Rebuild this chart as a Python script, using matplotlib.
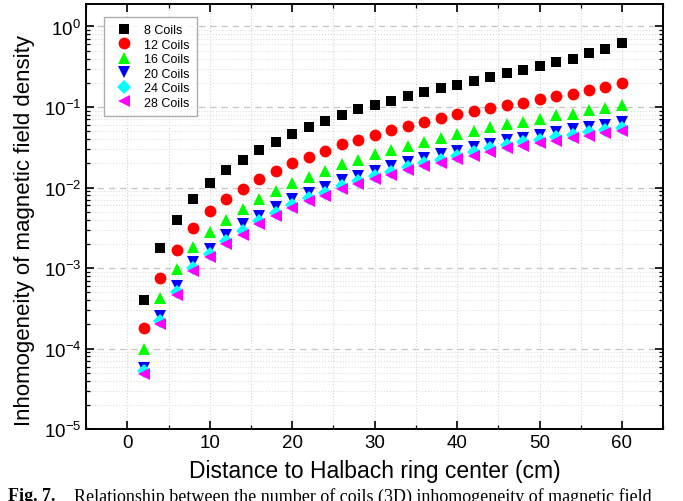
import numpy as np
import matplotlib
matplotlib.use('Agg')
import matplotlib.pyplot as plt
from matplotlib.ticker import LogLocator, MultipleLocator, NullFormatter

plt.rcParams['font.family'] = ['Liberation Sans', 'DejaVu Sans']
plt.rcParams['axes.unicode_minus'] = False

# distance to ring center (cm)
distance = [2, 4, 6, 8, 10, 12, 14, 16, 18, 20, 22, 24, 26, 28, 30,
            32, 34, 36, 38, 40, 42, 44, 46, 48, 50, 52, 54, 56, 58, 60]

coils_8 = [4.0e-4, 1.78e-3, 3.96e-3, 7.3e-3, 0.0115, 0.0166, 0.0222, 0.0296, 0.0372, 0.0464,
           0.0562, 0.0662, 0.080, 0.0935, 0.107, 0.120, 0.137, 0.152, 0.173, 0.190,
           0.213, 0.235, 0.261, 0.287, 0.319, 0.358, 0.398, 0.464, 0.521, 0.63]
coils_12 = [1.82e-4, 7.6e-4, 1.7e-3, 3.16e-3, 5.06e-3, 7.3e-3, 9.7e-3, 0.0127, 0.016, 0.0201,
            0.0242, 0.0287, 0.0345, 0.0394, 0.0455, 0.0516, 0.0584, 0.065, 0.0736, 0.0818,
            0.0883, 0.098, 0.107, 0.112, 0.126, 0.139, 0.147, 0.162, 0.178, 0.200]
coils_16 = [1.0e-4, 4.3e-4, 9.7e-4, 1.83e-3, 2.8e-3, 4.0e-3, 5.4e-3, 7.15e-3, 9.1e-3, 0.01155,
            0.0137, 0.0162, 0.0196, 0.0222, 0.0259, 0.0296, 0.0332, 0.0372, 0.0414, 0.0464,
            0.0506, 0.0562, 0.0619, 0.065, 0.0715, 0.0787, 0.0826, 0.0909, 0.0971, 0.105]
coils_20 = [5.8e-5, 2.57e-4, 6.0e-4, 1.2e-3, 1.74e-3, 2.6e-3, 3.58e-3, 4.5e-3, 5.8e-3, 7.3e-3,
            8.66e-3, 0.0103, 0.0124, 0.0140, 0.0162, 0.0183, 0.0209, 0.0235, 0.0261, 0.0288,
            0.0316, 0.0352, 0.0394, 0.0414, 0.0455, 0.0496, 0.0526, 0.0568, 0.0601, 0.066]
coils_24 = [5.3e-5, 2.2e-4, 5.1e-4, 9.9e-4, 1.5e-3, 2.2e-3, 2.85e-3, 3.8e-3, 4.8e-3, 6.1e-3,
            7.4e-3, 8.6e-3, 0.0104, 0.0121, 0.0139, 0.0158, 0.0182, 0.0201, 0.0221, 0.0248,
            0.0273, 0.0306, 0.0337, 0.0365, 0.0393, 0.0421, 0.0451, 0.0487, 0.0525, 0.0556]
coils_28 = [4.9e-5, 2.04e-4, 4.7e-4, 9.1e-4, 1.38e-3, 2.0e-3, 2.6e-3, 3.48e-3, 4.4e-3, 5.6e-3,
            6.8e-3, 7.87e-3, 9.5e-3, 0.0110, 0.0127, 0.0144, 0.0166, 0.0183, 0.0201, 0.0226,
            0.0249, 0.0279, 0.0307, 0.0332, 0.0358, 0.0383, 0.0410, 0.0443, 0.0478, 0.0506]

series = [
    ('8 Coils', coils_8, 's', 'black', 7.5),
    ('12 Coils', coils_12, 'o', 'red', 8.5),
    ('16 Coils', coils_16, '^', '#00ff00', 8.5),
    ('20 Coils', coils_20, 'v', 'blue', 8.5),
    ('24 Coils', coils_24, 'D', 'cyan', 7),
    ('28 Coils', coils_28, '<', 'magenta', 8.5),
]

fig = plt.figure(figsize=(6.83, 5.02), dpi=100)
ax = fig.add_axes([0.126, 0.143, 0.845, 0.847])

for name, vals, mk, col, ms in series:
    ax.plot(distance, vals, linestyle='none', marker=mk, color=col,
            markersize=ms, markeredgewidth=0, label=name)

ax.set_yscale('log')
ax.set_xlim(-5, 65)
ax.set_ylim(1e-5, 1.9)

ax.xaxis.set_major_locator(MultipleLocator(10))
ax.xaxis.set_minor_locator(MultipleLocator(5))
ax.yaxis.set_major_locator(LogLocator(base=10, numticks=10))
ax.yaxis.set_minor_locator(LogLocator(base=10, subs=np.arange(2, 10), numticks=10))
ax.yaxis.set_minor_formatter(NullFormatter())

ax.grid(which='major', axis='y', linestyle=(0, (5, 4)), color='#c4c4c4', linewidth=0.9)
ax.grid(which='minor', axis='y', linestyle=':', color='#dddddd', linewidth=0.8)
ax.grid(which='both', axis='x', linestyle=':', color='#d4d4d4', linewidth=0.8)
ax.set_axisbelow(True)

ax.tick_params(which='both', direction='in', top=True, right=True, labelsize=13.5)
ax.tick_params(which='major', length=6, width=1.2)
ax.tick_params(which='minor', length=3, width=0.9)
for sp in ax.spines.values():
    sp.set_linewidth(1.4)

ax.set_xlabel('Distance to Halbach ring center (cm)', fontsize=16.5, labelpad=6)
ax.set_ylabel('Inhomogeneity of magnetic field density', fontsize=16)
ax.yaxis.set_label_coords(-0.088, 0.47)

leg = ax.legend(loc='upper left', fontsize=9, frameon=True, fancybox=False,
                edgecolor='#999999', borderpad=0.6, labelspacing=0.2,
                handletextpad=0.6, bbox_to_anchor=(0.02, 0.985))
leg.get_frame().set_linewidth(1.0)

fig.text(0.012, 0.028, 'Fig. 7.', fontsize=13, fontweight='bold',
         family='Liberation Serif', va='top')
fig.text(0.108, 0.028, 'Relationship between the number of coils (3D) inhomogeneity of magnetic field',
         fontsize=13, family='Liberation Serif', va='top')

fig.savefig('out.png', dpi=100)
